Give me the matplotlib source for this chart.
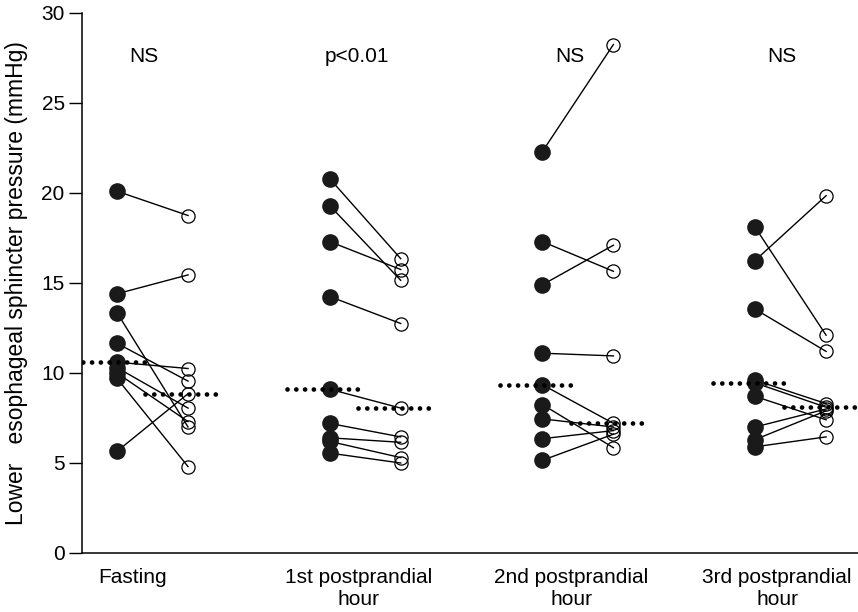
import matplotlib.pyplot as plt
import numpy as np

plt.rcParams['font.family'] = ['Liberation Sans', 'DejaVu Sans']

# Perioden und Messwerte (mmHg), vorher = gefuellte Kreise, nachher = offene Kreise
perioden = ['Fasting', '1st postprandial\nhour', '2nd postprandial\nhour', '3rd postprandial\nhour']
signifikanz = ['NS', 'p<0.01', 'NS', 'NS']

vorher_fasting = [20.1, 14.4, 13.35, 11.65, 10.6, 10.3, 10.0, 9.7, 5.65]
nachher_fasting = [18.75, 15.45, 7.0, 9.55, 10.25, 8.05, 7.3, 4.8, 8.85]

vorher_1 = [20.8, 19.3, 17.3, 14.25, 9.1, 7.2, 6.4, 6.2, 5.55]
nachher_1 = [16.35, 15.15, 15.75, 12.75, 8.05, 6.45, 6.15, 5.3, 5.0]

vorher_2 = [22.3, 17.3, 14.9, 11.1, 9.35, 8.25, 7.45, 6.35, 5.15]
nachher_2 = [28.25, 15.65, 17.1, 10.95, 7.2, 5.85, 7.0, 6.8, 6.6]

vorher_3 = [18.1, 16.25, 13.55, 9.6, 9.45, 8.7, 7.0, 6.3, 5.9]
nachher_3 = [12.1, 19.85, 11.2, 8.3, 8.1, 7.4, 8.0, 7.9, 6.45]

vorher = [vorher_fasting, vorher_1, vorher_2, vorher_3]
nachher = [nachher_fasting, nachher_1, nachher_2, nachher_3]

fig = plt.figure(figsize=(8.58, 6.12), dpi=100)
ax = fig.add_axes([82/858, 59/612, 776/858, 540/612])

versatz = 0.167
for i in range(len(perioden)):
    xa = i - versatz
    xb = i + versatz
    # Verbindungslinien
    for a, b in zip(vorher[i], nachher[i]):
        ax.plot([xa, xb], [a, b], color='black', lw=1.0, zorder=2)
    ax.plot([xa]*len(vorher[i]), vorher[i], 'o', ms=12, color='#1a1a1a',
            mec='none', zorder=3)
    ax.plot([xb]*len(nachher[i]), nachher[i], 'o', ms=9.5, mfc='none',
            mec='black', mew=0.9, zorder=3)
    # Median als gepunktete Linie
    for x0, werte in [(xa, vorher[i]), (xb, nachher[i])]:
        m = np.median(werte)
        ax.plot([x0 - 0.2, x0 + 0.15], [m, m], color='black', lw=3.4,
                linestyle=(0, (0.01, 1.85)), dash_capstyle='round', zorder=4)
    ax.text(i - 0.04, 27.6, signifikanz[i], ha='center', va='center', fontsize=15)

ax.set_xlim(-0.3315, 3.317)
ax.set_ylim(0, 30)
ax.set_yticks([0, 5, 10, 15, 20, 25, 30])
ax.set_xticks([-0.092, 1 - 0.031, 2 - 0.031, 3 - 0.063])
ax.set_xticklabels(perioden)
ax.tick_params(axis='x', length=0, pad=11, labelsize=15)
ax.tick_params(axis='y', length=9.5, width=1.0, pad=3, labelsize=15)
ax.spines['top'].set_visible(False)
ax.spines['right'].set_visible(False)
ax.spines['left'].set_linewidth(1.1)
ax.spines['bottom'].set_linewidth(1.1)
ax.set_ylabel('Lower   esophageal sphincter pressure (mmHg)', fontsize=16.5)
ax.yaxis.set_label_coords(-0.07, 0.5)

plt.savefig('out.png', dpi=100)
